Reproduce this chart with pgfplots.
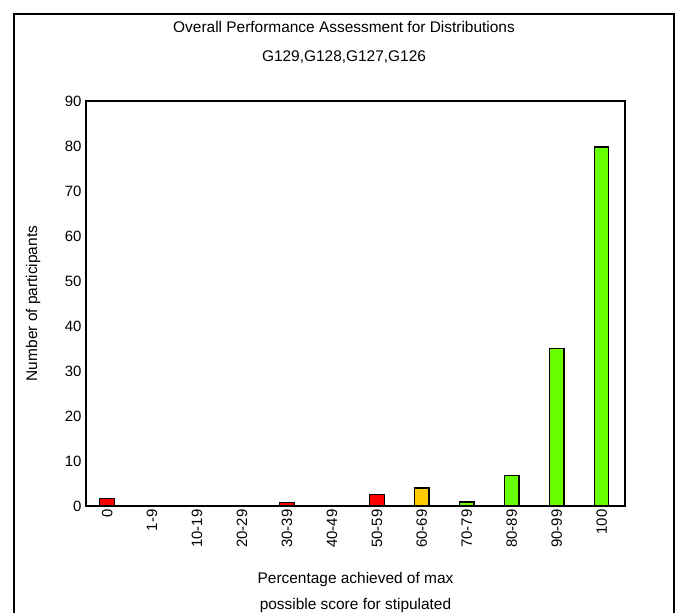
\documentclass[border=0pt]{standalone}
\usepackage{fontspec}
\setmainfont{Liberation Sans}
\usepackage{pgfplots}
\pgfplotsset{compat=1.18}

\definecolor{barred}{HTML}{FF0000}
\definecolor{bargold}{HTML}{FFCC00}
\definecolor{bargreen}{HTML}{66FF00}

\begin{document}
\begin{tikzpicture}
    % page is 679 x 613 bp
    \useasboundingbox (0,0) rectangle (679bp,613bp);
    \draw[line width=2bp] (14bp,-30bp) rectangle (674bp,599bp);

    \node[font=\fontsize{15.5}{18}\selectfont] at (344bp,586bp) {Overall Performance Assessment for Distributions};
    \node[font=\fontsize{15.5}{18}\selectfont] at (344bp,556bp) {G129,G128,G127,G126};

    \begin{axis}[
            at={(86bp,107bp)}, anchor=south west,
            scale only axis,
            width=539bp, height=405bp,
            xmin=-0.47, xmax=11.52,
            ymin=0, ymax=90,
            ytick={0,10,...,90},
            xtick={0,...,11},
            xticklabels={0,1-9,10-19,20-29,30-39,40-49,50-59,60-69,70-79,80-89,90-99,100},
            major tick length=0pt,
            axis line style={line width=1.4bp},
            /pgf/number format/assume math mode=true,
            tick label style={font=\fontsize{15}{17}\selectfont},
            yticklabel style={xshift=-1bp},
            xticklabel style={rotate=90, anchor=east},
            ylabel={Number of participants},
            ylabel style={at={(axis description cs:-0.098,0.5)}, anchor=center,
                font=\fontsize{15.5}{18}\selectfont},
            xlabel={Percentage achieved of max\\[8bp]possible score for stipulated},
            xlabel style={at={(axis description cs:0.5,-0.156)}, anchor=north,
                align=center, font=\fontsize{15.5}{18}\selectfont},
            ybar, bar width=14.5bp, bar shift=0pt,
            every axis plot/.append style={draw=black, line width=1.2bp},
        ]
        \addplot[fill=barred] coordinates {(0,1.7) (4,0.8) (6,2.6)};
        \addplot[fill=bargold] coordinates {(7,4.0)};
        \addplot[fill=bargreen] coordinates {(8,0.9) (9,6.7) (10,35.0) (11,79.8)};
    \end{axis}
\end{tikzpicture}
\end{document}
